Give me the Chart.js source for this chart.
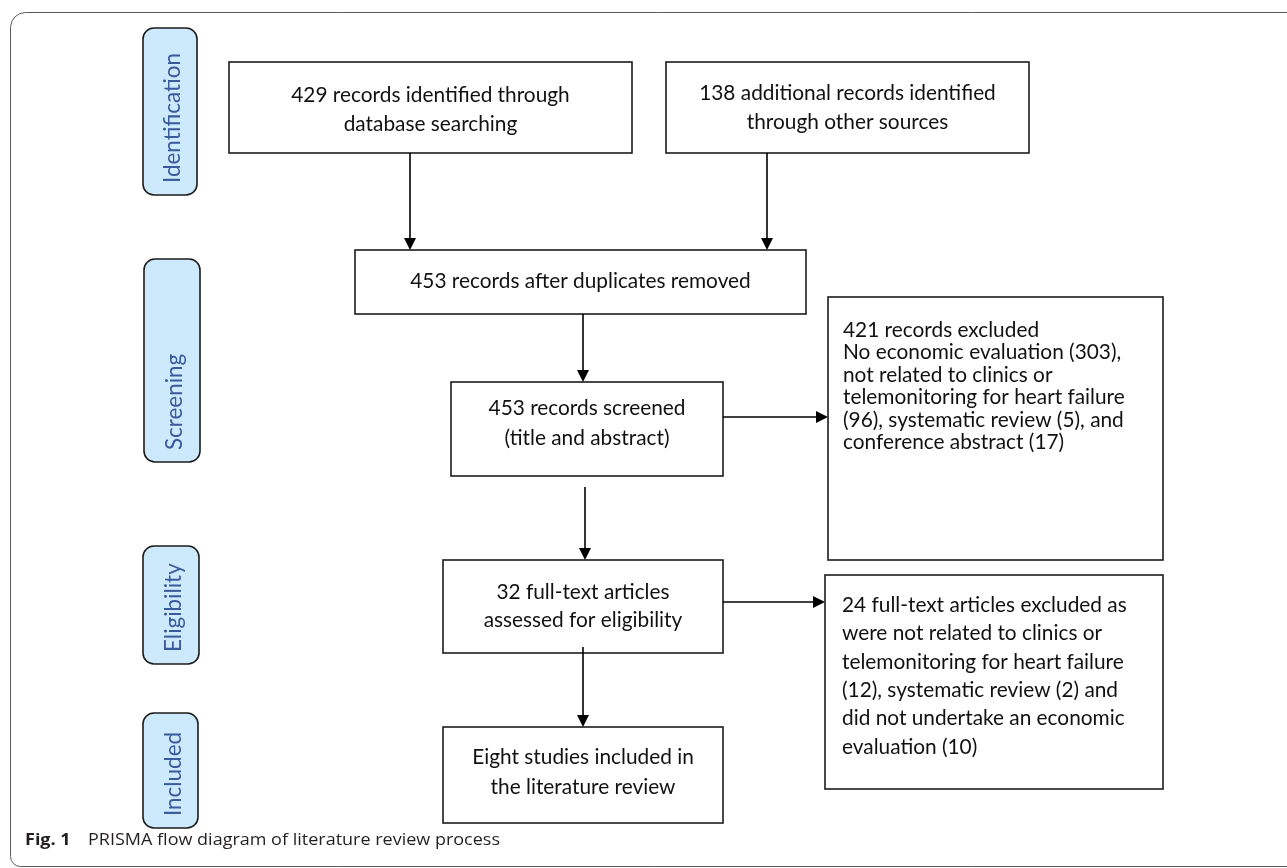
<!DOCTYPE html>
<html>
<head>
<meta charset="utf-8">
<script src="https://cdn.jsdelivr.net/npm/chart.js@4.4.1/dist/chart.umd.min.js"></script>
<style>
  html, body { margin: 0; padding: 0; background: #ffffff; }
  #wrap { width: 1287px; height: 868px; position: relative; }
</style>
</head>
<body>
<div id="wrap"><canvas id="c" width="1287" height="868"></canvas></div>
<script>
// ---------------- DATA ----------------
const stageLabels = ['Identification', 'Screening', 'Eligibility', 'Included'];
const identifiedDatabase = 429;
const identifiedOther = 138;
const afterDuplicates = 453;
const screened = 453;
const excludedScreening = 421;
const excludedScreeningReasons = [303, 96, 5, 17];
const fullTextAssessed = 32;
const excludedFullText = 24;
const excludedFullTextReasons = [12, 2, 10];
const includedStudies = 'Eight';
const captionLabel = 'Fig. 1';
const captionText = 'PRISMA flow diagram of literature review process';

// box texts built from the data
const boxLines = [
  [identifiedDatabase + ' records identified through', 'database searching'],
  [identifiedOther + ' additional records identified', 'through other sources'],
  [afterDuplicates + ' records after duplicates removed'],
  [screened + ' records screened', '(title and abstract)'],
  [excludedScreening + ' records excluded',
   'No economic evaluation (' + excludedScreeningReasons[0] + '),',
   'not related to clinics or',
   'telemonitoring for heart failure',
   '(' + excludedScreeningReasons[1] + '), systematic review (' + excludedScreeningReasons[2] + '), and',
   'conference abstract (' + excludedScreeningReasons[3] + ')'],
  [fullTextAssessed + ' full-text articles', 'assessed for eligibility'],
  [excludedFullText + ' full-text articles excluded as',
   'were not related to clinics or',
   'telemonitoring for heart failure',
   '(' + excludedFullTextReasons[0] + '), systematic review (' + excludedFullTextReasons[1] + ') and',
   'did not undertake an economic',
   'evaluation (' + excludedFullTextReasons[2] + ')'],
  [includedStudies + ' studies included in', 'the literature review']
];

// ---------------- LAYOUT (diagram coordinates) ----------------
const pillLayout = [
  { x0: 143, y0: 28,  x1: 197, y1: 195 },
  { x0: 144, y0: 259, x1: 200, y1: 462 },
  { x0: 143, y0: 546, x1: 199, y1: 664 },
  { x0: 143, y0: 713, x1: 198, y1: 828 }
];
const boxLayout = [
  { x0: 229, y0: 62,  x1: 632,  y1: 153, align: 'center', ty: 95,  lh: 29 },
  { x0: 666, y0: 62,  x1: 1029, y1: 153, align: 'center', ty: 93,  lh: 29 },
  { x0: 355, y0: 250, x1: 806,  y1: 314, align: 'center', ty: 281, lh: 29 },
  { x0: 451, y0: 382, x1: 723,  y1: 476, align: 'center', ty: 408, lh: 30 },
  { x0: 828, y0: 297, x1: 1163, y1: 560, align: 'left', tx: 843, ty: 330, lh: 22.5 },
  { x0: 443, y0: 560, x1: 723,  y1: 653, align: 'center', ty: 592, lh: 28 },
  { x0: 825, y0: 575, x1: 1163, y1: 789, align: 'left', tx: 842, ty: 605, lh: 28.4 },
  { x0: 443, y0: 727, x1: 723,  y1: 823, align: 'center', ty: 757, lh: 30 }
];
const arrowLayout = [
  [410, 153, 410, 250],
  [767, 153, 767, 250],
  [583, 314, 583, 382],
  [723, 417, 828, 417],
  [585, 487, 585, 560],
  [723, 602, 825, 602],
  [583, 647, 583, 727]
];

const BOX_FONT = 'Lato';
const PILL_FONT = 'Lato';
const CAP_FONT = '"Open Sans"';
const CAP_SIZE = 15.5;

function fitSize(ctx, family, weight, sample, target) {
  ctx.font = weight + ' 20px ' + family;
  const w = ctx.measureText(sample).width;
  return 20 * target / w;
}

const flowPlugin = {
  id: 'flow',
  afterDraw(chart) {
    const ctx = chart.ctx;
    const xs = chart.scales.x, ys = chart.scales.y;
    const X = v => xs.getPixelForValue(v);
    const Y = v => ys.getPixelForValue(v);
    ctx.save();

    // outer frame
    ctx.strokeStyle = '#5a5a5a';
    ctx.lineWidth = 1;
    const fl = X(10) + 0.5, ft = Y(12) + 0.5, fb = Y(866) + 0.5, fr = X(1300);
    ctx.beginPath();
    ctx.moveTo(fr, ft);
    ctx.lineTo(fl + 15, ft);
    ctx.arcTo(fl, ft, fl, ft + 15, 15);
    ctx.lineTo(fl, fb - 10);
    ctx.arcTo(fl, fb, fl + 10, fb, 10);
    ctx.lineTo(fr, fb);
    ctx.stroke();

    // stage pills
    const pillSize = fitSize(ctx, PILL_FONT, 'normal', 'Identification', 130);
    pillLayout.forEach((p, i) => {
      const x0 = X(p.x0), y0 = Y(p.y0), x1 = X(p.x1), y1 = Y(p.y1);
      ctx.beginPath();
      ctx.roundRect(x0, y0, x1 - x0, y1 - y0, 11);
      ctx.fillStyle = '#cdeafc';
      ctx.fill();
      ctx.lineWidth = 1.6;
      ctx.strokeStyle = '#1c1c1c';
      ctx.stroke();
      ctx.save();
      ctx.translate((x0 + x1) / 2 + 3, y1 - 12);
      ctx.rotate(-Math.PI / 2);
      ctx.fillStyle = '#3a5a9e';
      ctx.font = 'normal ' + pillSize.toFixed(2) + 'px ' + PILL_FONT;
      ctx.textAlign = 'left';
      ctx.textBaseline = 'middle';
      ctx.fillText(stageLabels[i], 0, 0);
      ctx.restore();
    });

    // boxes
    const boxSize = fitSize(ctx, BOX_FONT, 'normal', '453 records screened', 197);
    boxLayout.forEach((b, i) => {
      const x0 = X(b.x0), y0 = Y(b.y0), x1 = X(b.x1), y1 = Y(b.y1);
      ctx.fillStyle = '#ffffff';
      ctx.fillRect(x0, y0, x1 - x0, y1 - y0);
      ctx.lineWidth = 1.6;
      ctx.strokeStyle = '#1c1c1c';
      ctx.strokeRect(x0, y0, x1 - x0, y1 - y0);
      ctx.fillStyle = '#111111';
      ctx.font = boxSize.toFixed(2) + 'px ' + BOX_FONT;
      ctx.textBaseline = 'middle';
      boxLines[i].forEach((line, k) => {
        const ty = Y(b.ty + k * b.lh);
        if (b.align === 'center') {
          ctx.textAlign = 'center';
          ctx.fillText(line, (x0 + x1) / 2, ty);
        } else {
          ctx.textAlign = 'left';
          ctx.fillText(line, X(b.tx), ty);
        }
      });
    });

    // arrows
    arrowLayout.forEach(a => {
      const xa = X(a[0]), ya = Y(a[1]), xb = X(a[2]), yb = Y(a[3]);
      const ang = Math.atan2(yb - ya, xb - xa);
      const hl = 12, hw = 6;
      const bx = xb - hl * Math.cos(ang), by = yb - hl * Math.sin(ang);
      ctx.strokeStyle = '#000000';
      ctx.lineWidth = 1.6;
      ctx.beginPath();
      ctx.moveTo(xa, ya);
      ctx.lineTo(bx, by);
      ctx.stroke();
      ctx.fillStyle = '#000000';
      ctx.beginPath();
      ctx.moveTo(xb, yb);
      ctx.lineTo(bx + hw * Math.sin(ang), by - hw * Math.cos(ang));
      ctx.lineTo(bx - hw * Math.sin(ang), by + hw * Math.cos(ang));
      ctx.closePath();
      ctx.fill();
    });

    // caption (slightly condensed to match the original typeface width)
    ctx.font = 'normal ' + CAP_SIZE + 'px ' + CAP_FONT;
    const natW = ctx.measureText(captionText).width;
    const sx = 412 / natW;
    ctx.textAlign = 'left';
    ctx.textBaseline = 'alphabetic';
    ctx.fillStyle = '#231f20';
    ctx.save();
    ctx.translate(X(25), Y(845));
    ctx.scale(sx, 1);
    ctx.font = 'bold ' + CAP_SIZE + 'px ' + CAP_FONT;
    ctx.fillText(captionLabel, 0, 0);
    ctx.restore();
    ctx.save();
    ctx.translate(X(88), Y(845));
    ctx.scale(sx, 1);
    ctx.font = 'normal ' + CAP_SIZE + 'px ' + CAP_FONT;
    ctx.fillText(captionText, 0, 0);
    ctx.restore();

    ctx.restore();
  }
};

new Chart(document.getElementById('c'), {
  type: 'scatter',
  data: { datasets: [{ data: [], pointRadius: 0 }] },
  options: {
    responsive: false,
    animation: false,
    layout: { padding: 0 },
    plugins: { legend: { display: false }, tooltip: { enabled: false } },
    scales: {
      x: { type: 'linear', min: 0, max: 1287, display: false },
      y: { type: 'linear', min: 0, max: 868, reverse: true, display: false }
    }
  },
  plugins: [flowPlugin]
});
</script>
</body>
</html>
